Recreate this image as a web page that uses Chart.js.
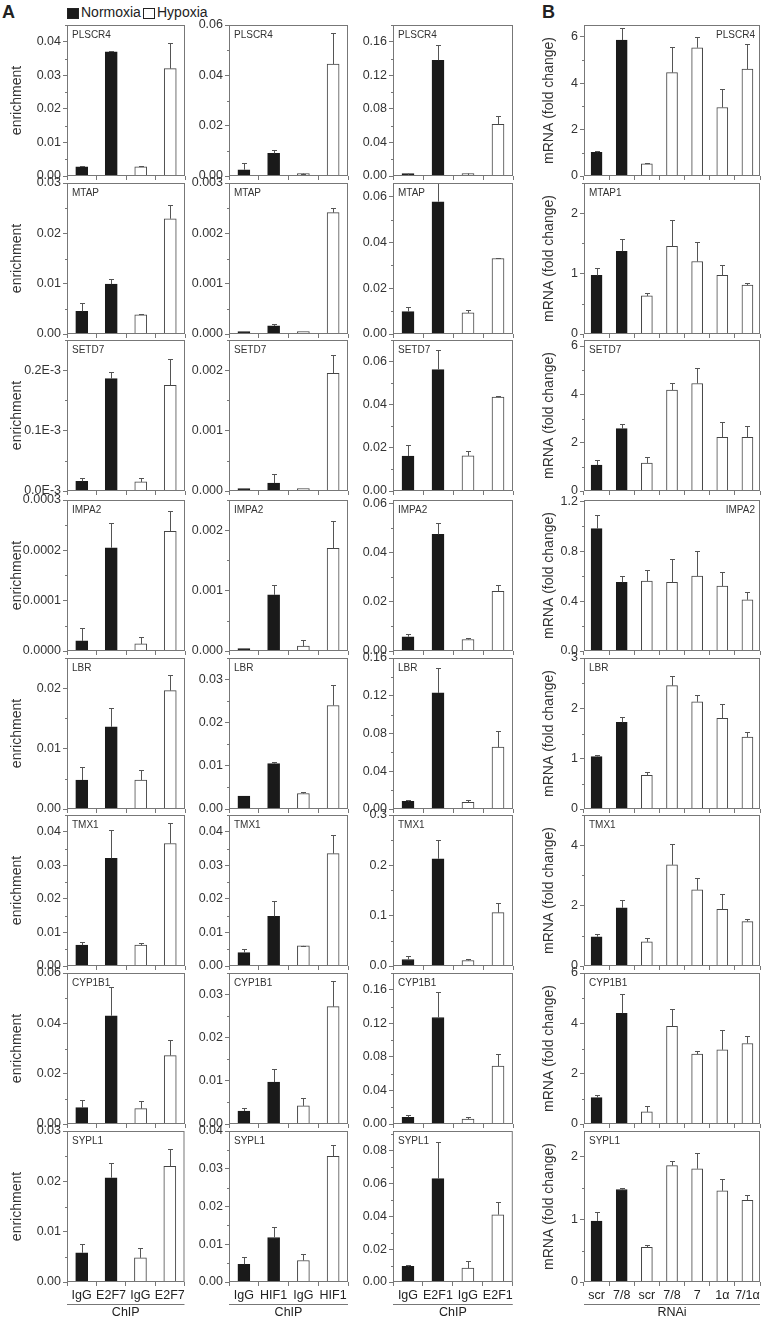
<!DOCTYPE html>
<html>
<head>
<meta charset="utf-8">
<script src="https://cdn.jsdelivr.net/npm/chart.js@4.4.0/dist/chart.umd.min.js"></script>
<style>
  body { margin: 0; background: #fff; width: 762px; height: 1322px; position: relative; overflow: hidden;
         font-family: "Liberation Sans", Arial, sans-serif; color: #222; }
  canvas { position: absolute; }
  .hdr { position: absolute; font-weight: bold; font-size: 18px; top: 2px; }
  .leg { position: absolute; font-size: 14px; top: 4px; }
  .sw { position: absolute; top: 8px; width: 12px; height: 11px; box-sizing: border-box; border: 1px solid #222; }
</style>
</head>
<body>
<div class="hdr" style="left:2px">A</div>
<div class="hdr" style="left:542px">B</div>
<div class="sw" style="left:67px;background:#1a1a1a"></div>
<div class="leg" style="left:81px">Normoxia</div>
<div class="sw" style="left:143px;background:#fff"></div>
<div class="leg" style="left:157px">Hypoxia</div>

<script>
// gene names per row
const chipGenes = ['PLSCR4', 'MTAP', 'SETD7', 'IMPA2', 'LBR', 'TMX1', 'CYP1B1', 'SYPL1'];
const rnaiGenes = ['PLSCR4', 'MTAP1', 'SETD7', 'IMPA2', 'LBR', 'TMX1', 'CYP1B1', 'SYPL1'];

// x categories
const e2f7Labels = ['IgG', 'E2F7', 'IgG', 'E2F7'];
const hif1Labels = ['IgG', 'HIF1', 'IgG', 'HIF1'];
const e2f1Labels = ['IgG', 'E2F1', 'IgG', 'E2F1'];
const rnaiLabels = ['scr', '7/8', 'scr', '7/8', '7', '1α', '7/1α'];

// ChIP E2F7 (enrichment), one row per gene
const e2f7Mean = [
  [0.0027, 0.037, 0.0027, 0.032],
  [0.0045, 0.0099, 0.0038, 0.0229],
  [0.000016, 0.000186, 0.000015, 0.000175],
  [0.00002, 0.000205, 0.000014, 0.000238],
  [0.0048, 0.0136, 0.0048, 0.0196],
  [0.0062, 0.0321, 0.0062, 0.0365],
  [0.0065, 0.043, 0.0061, 0.0272],
  [0.0058, 0.0207, 0.0048, 0.023]
];
const e2f7Sd = [
  [0.0002, 0.0003, 0.0002, 0.0075],
  [0.0016, 0.001, 0.0002, 0.0027],
  [0.000005, 0.000011, 0.000007, 0.000044],
  [0.000025, 0.00005, 0.000014, 0.00004],
  [0.0022, 0.0031, 0.0017, 0.0026],
  [0.001, 0.0085, 0.0008, 0.006],
  [0.003, 0.0115, 0.0031, 0.0063],
  [0.0017, 0.003, 0.002, 0.0035]
];

// ChIP HIF1
const hif1Mean = [
  [0.0025, 0.009, 0.0006, 0.0445],
  [0.00001, 0.00016, 0.00001, 0.00241],
  [0.00002, 0.00013, 0.00002, 0.00195],
  [0.00001, 0.00093, 0.00008, 0.0017],
  [0.003, 0.0105, 0.0036, 0.024],
  [0.004, 0.0148, 0.006, 0.0335],
  [0.003, 0.0097, 0.0042, 0.0272],
  [0.0047, 0.0118, 0.0057, 0.0333]
];
const hif1Sd = [
  [0.0027, 0.0012, 0.0001, 0.0125],
  [0, 0.00004, 0, 0.0001],
  [0, 0.00015, 0, 0.0003],
  [0, 0.00017, 0.0001, 0.00045],
  [0, 0.0005, 0.0004, 0.0047],
  [0.001, 0.0047, 0.0001, 0.0055],
  [0.0007, 0.003, 0.0019, 0.006],
  [0.0018, 0.0027, 0.0018, 0.0029]
];

// ChIP E2F1
const e2f1Mean = [
  [0.001, 0.138, 0.0008, 0.0615],
  [0.0098, 0.0578, 0.0092, 0.033],
  [0.0162, 0.0563, 0.0163, 0.0435],
  [0.0058, 0.0475, 0.0047, 0.0243],
  [0.008, 0.123, 0.007, 0.0655],
  [0.013, 0.213, 0.011, 0.106],
  [0.008, 0.127, 0.006, 0.069],
  [0.0095, 0.063, 0.0085, 0.041]
];
const e2f1Sd = [
  [0.0005, 0.018, 0.0004, 0.0095],
  [0.0022, 0.0082, 0.0011, 0.0004],
  [0.0052, 0.0092, 0.0023, 0.0004],
  [0.001, 0.0045, 0.0005, 0.0027],
  [0.0015, 0.026, 0.0025, 0.0175],
  [0.007, 0.037, 0.003, 0.02],
  [0.0025, 0.03, 0.0028, 0.014],
  [0.001, 0.022, 0.004, 0.008]
];

// RNAi mRNA fold change
const rnaiMean = [
  [1.02, 5.85, 0.52, 4.45, 5.52, 2.95, 4.6],
  [0.97, 1.37, 0.63, 1.45, 1.2, 0.97, 0.81],
  [1.07, 2.58, 1.16, 4.18, 4.45, 2.22, 2.22],
  [0.98, 0.55, 0.56, 0.55, 0.6, 0.52, 0.41],
  [1.04, 1.72, 0.67, 2.45, 2.13, 1.8, 1.43],
  [0.97, 1.93, 0.8, 3.35, 2.52, 1.88, 1.47],
  [1.05, 4.4, 0.48, 3.88, 2.78, 2.95, 3.2],
  [0.97, 1.47, 0.55, 1.85, 1.8, 1.45, 1.3]
];
const rnaiSd = [
  [0.06, 0.5, 0.05, 1.1, 0.48, 0.8, 1.1],
  [0.13, 0.21, 0.05, 0.43, 0.32, 0.18, 0.03],
  [0.23, 0.2, 0.24, 0.27, 0.65, 0.63, 0.48],
  [0.11, 0.05, 0.09, 0.19, 0.2, 0.11, 0.06],
  [0.04, 0.11, 0.06, 0.2, 0.13, 0.29, 0.09],
  [0.1, 0.25, 0.12, 0.7, 0.41, 0.49, 0.1],
  [0.1, 0.75, 0.24, 0.67, 0.12, 0.8, 0.28],
  [0.15, 0.03, 0.04, 0.08, 0.25, 0.18, 0.08]
];

// y axis ranges per row
const e2f7Max = [0.045, 0.03, 0.00025, 0.0003, 0.025, 0.045, 0.06, 0.03];
const e2f7Step = [0.01, 0.01, 0.0001, 0.0001, 0.01, 0.01, 0.02, 0.01];
const e2f7Dec = [2, 2, 'E', 4, 2, 2, 2, 2];
const hif1Max = [0.06, 0.003, 0.0025, 0.0025, 0.035, 0.045, 0.035, 0.04];
const hif1Step = [0.02, 0.001, 0.001, 0.001, 0.01, 0.01, 0.01, 0.01];
const hif1Dec = [2, 3, 3, 3, 2, 2, 2, 2];
const e2f1Max = [0.18, 0.066, 0.07, 0.0615, 0.16, 0.3, 0.18, 0.092];
const e2f1Step = [0.04, 0.02, 0.02, 0.02, 0.04, 0.1, 0.04, 0.02];
const e2f1Dec = [2, 2, 2, 2, 2, 1, 2, 2];
const rnaiMax = [6.5, 2.5, 6.25, 1.21, 3, 5, 6, 2.4];
const rnaiStep = [2, 1, 2, 0.4, 1, 2, 2, 1];
const rnaiDec = [0, 0, 0, 1, 0, 0, 0, 0];

// page geometry
const plotLeft = [67, 229, 393, 584];
const plotRight = [185, 348, 513, 760];
const axisW = [67, 39, 38, 64];
const rowTop = [25, 183, 340, 500, 658, 815, 973, 1131];
const plotH = 151;
const FONT = '"Liberation Sans", Arial, sans-serif';

// error bars, frame, minor ticks, gene name, bottom underline
const panelDecor = {
  id: 'panelDecor',
  afterDatasetsDraw(chart, args, o) {
    const { ctx, chartArea: a } = chart;
    const y = chart.scales.y;
    const bars = chart.getDatasetMeta(0).data;
    ctx.save();
    ctx.lineWidth = 1;
    ctx.strokeStyle = '#555';
    bars.forEach((b, i) => {
      const s = o.sd[i];
      if (!s) return;
      const top = Math.round(y.getPixelForValue(o.mean[i] + s)) + 0.5;
      const x = Math.round(b.x) + 0.5;
      ctx.beginPath();
      ctx.moveTo(x, b.y);
      ctx.lineTo(x, top);
      ctx.moveTo(x - 2.5, top);
      ctx.lineTo(x + 2.5, top);
      ctx.stroke();
    });
    ctx.strokeStyle = '#777';
    ctx.strokeRect(a.left + 0.5, a.top + 0.5, a.width - 1, a.height - 1);
    const minor = o.step / 2;
    ctx.beginPath();
    for (let i = 1; i * minor <= o.max + 1e-12; i += 2) {
      const py = Math.round(y.getPixelForValue(i * minor)) + 0.5;
      ctx.moveTo(a.left - 2, py);
      ctx.lineTo(a.left, py);
    }
    if (o.underline) {
      ctx.moveTo(a.left, a.bottom + 22.5);
      ctx.lineTo(a.right, a.bottom + 22.5);
    }
    ctx.stroke();
    ctx.fillStyle = '#333';
    ctx.font = '10px ' + FONT;
    ctx.textBaseline = 'middle';
    ctx.textAlign = o.right ? 'right' : 'left';
    ctx.fillText(o.gene, o.right ? a.right - 5 : a.left + 5, a.top + 10);
    ctx.restore();
  }
};

function makePanel(col, row, labels, mean, sd, yMax, yStep, yDec, gene, yTitle, xTitle, right) {
  const bottom = row === 7;
  const xH = bottom ? 40 : 10;
  const w = axisW[col] + (plotRight[col] - plotLeft[col]) + 2;
  const h = 10 + plotH + xH;
  const c = document.createElement('canvas');
  c.width = w; c.height = h;
  c.style.left = (plotLeft[col] - axisW[col]) + 'px';
  c.style.top = (rowTop[row] - 10) + 'px';
  c.style.width = w + 'px'; c.style.height = h + 'px';
  document.body.appendChild(c);

  const fill = labels.map((l, i) => i < 2 ? '#1a1a1a' : '#ffffff');
  const edge = labels.map((l, i) => i < 2 ? '#1a1a1a' : '#444');

  new Chart(c, {
    type: 'bar',
    data: {
      labels: labels,
      datasets: [{
        data: mean,
        backgroundColor: fill,
        borderColor: edge,
        borderWidth: 1,
        minBarLength: 2.5,
        barThickness: col === 3 ? 11 : 12
      }]
    },
    options: {
      responsive: false,
      animation: false,
      events: [],
      layout: { padding: { top: 10, right: 2, left: 0, bottom: 0 } },
      plugins: {
        legend: { display: false },
        tooltip: { enabled: false },
        panelDecor: { mean: mean, sd: sd, max: yMax, step: yStep, gene: gene, right: right, underline: bottom }
      },
      scales: {
        x: {
          afterFit: s => { s.height = xH; },
          grid: { display: true, drawOnChartArea: false, drawTicks: true, tickLength: 4, color: '#777' },
          border: { display: false },
          ticks: { display: bottom, color: '#222', font: { family: FONT, size: 12.5 }, padding: 2,
                   maxRotation: 0, autoSkip: false },
          title: { display: bottom, text: xTitle, color: '#222', font: { family: FONT, size: 12.5 },
                   padding: { top: 0, bottom: 2 } }
        },
        y: {
          min: 0,
          max: yMax,
          afterFit: s => { s.width = axisW[col]; },
          grid: { display: true, drawOnChartArea: false, drawTicks: true, tickLength: 4, color: '#777' },
          border: { display: false },
          ticks: {
            stepSize: yStep,
            includeBounds: false,
            color: '#333',
            padding: 2,
            font: { family: FONT, size: 12.5 },
            callback: v => yDec === 'E' ? (v * 1000).toFixed(1) + 'E-3' : v.toFixed(yDec)
          },
          title: {
            display: !!yTitle,
            text: yTitle,
            color: '#333',
            font: { family: FONT, size: 14 },
            padding: { top: col === 0 ? 8.5 : 20.5, bottom: 0 }
          }
        }
      }
    },
    plugins: [panelDecor]
  });
}

for (let r = 0; r < 8; r++) {
  makePanel(0, r, e2f7Labels, e2f7Mean[r], e2f7Sd[r], e2f7Max[r], e2f7Step[r], e2f7Dec[r], chipGenes[r], 'enrichment', 'ChIP', false);
  makePanel(1, r, hif1Labels, hif1Mean[r], hif1Sd[r], hif1Max[r], hif1Step[r], hif1Dec[r], chipGenes[r], '', 'ChIP', false);
  makePanel(2, r, e2f1Labels, e2f1Mean[r], e2f1Sd[r], e2f1Max[r], e2f1Step[r], e2f1Dec[r], chipGenes[r], '', 'ChIP', false);
  makePanel(3, r, rnaiLabels, rnaiMean[r], rnaiSd[r], rnaiMax[r], rnaiStep[r], rnaiDec[r], rnaiGenes[r], 'mRNA (fold change)', 'RNAi', r === 0 || r === 3);
}
</script>
</body>
</html>
